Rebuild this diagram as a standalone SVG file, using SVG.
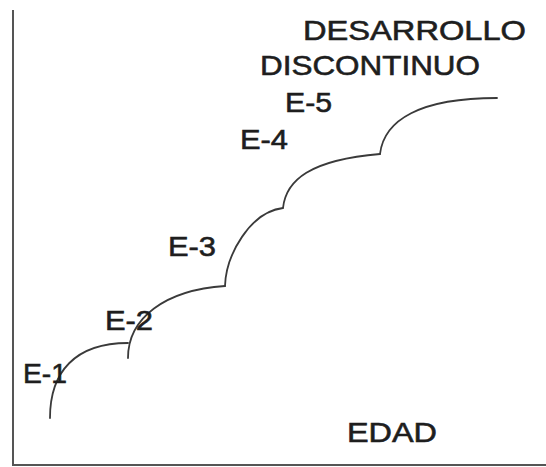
<svg xmlns="http://www.w3.org/2000/svg" width="546" height="467" viewBox="0 0 546 467">
<style>
.t{font-family:"Liberation Sans",Arial,sans-serif;font-size:28px;fill:#1e1e1e;stroke:#1e1e1e;stroke-width:0.6}
.c{fill:none;stroke:#3a3a3a;stroke-width:1.8;stroke-linecap:round;stroke-linejoin:round}
.ax{fill:none;stroke:#555;stroke-width:2}
</style>
<rect width="546" height="467" fill="#fff"/>
<g id="axes">
<path class="ax" d="M13,10 V465 H546"/>
</g>
<g id="connectors">
<path class="c" d="M50,418 C50,372 75,343 128,343"/>
<path class="c" d="M128,358 C128,318 165,290 225,286"/>
<path class="c" d="M225,286 C226,255 250,212 283,208"/>
<path class="c" d="M283,208 C286,180 310,160 380,154"/>
<path class="c" d="M380,154 C384,120 420,98 497,98"/>
</g>
<g id="title"><text class="t" x="303" y="40" textLength="223" lengthAdjust="spacingAndGlyphs">DESARROLLO</text>
<text class="t" x="260" y="75" textLength="220" lengthAdjust="spacingAndGlyphs">DISCONTINUO</text></g>
<g id="e5"><text class="t" x="285" y="112" textLength="47" lengthAdjust="spacingAndGlyphs">E-5</text></g>
<g id="e4"><text class="t" x="240" y="149" textLength="48" lengthAdjust="spacingAndGlyphs">E-4</text></g>
<g id="e3"><text class="t" x="168" y="256" textLength="48" lengthAdjust="spacingAndGlyphs">E-3</text></g>
<g id="e2"><text class="t" x="105" y="330" textLength="48" lengthAdjust="spacingAndGlyphs">E-2</text></g>
<g id="e1"><text class="t" x="23" y="383" textLength="44" lengthAdjust="spacingAndGlyphs">E-1</text></g>
<g id="edad"><text class="t" x="347" y="442" textLength="90" lengthAdjust="spacingAndGlyphs">EDAD</text></g>
</svg>
